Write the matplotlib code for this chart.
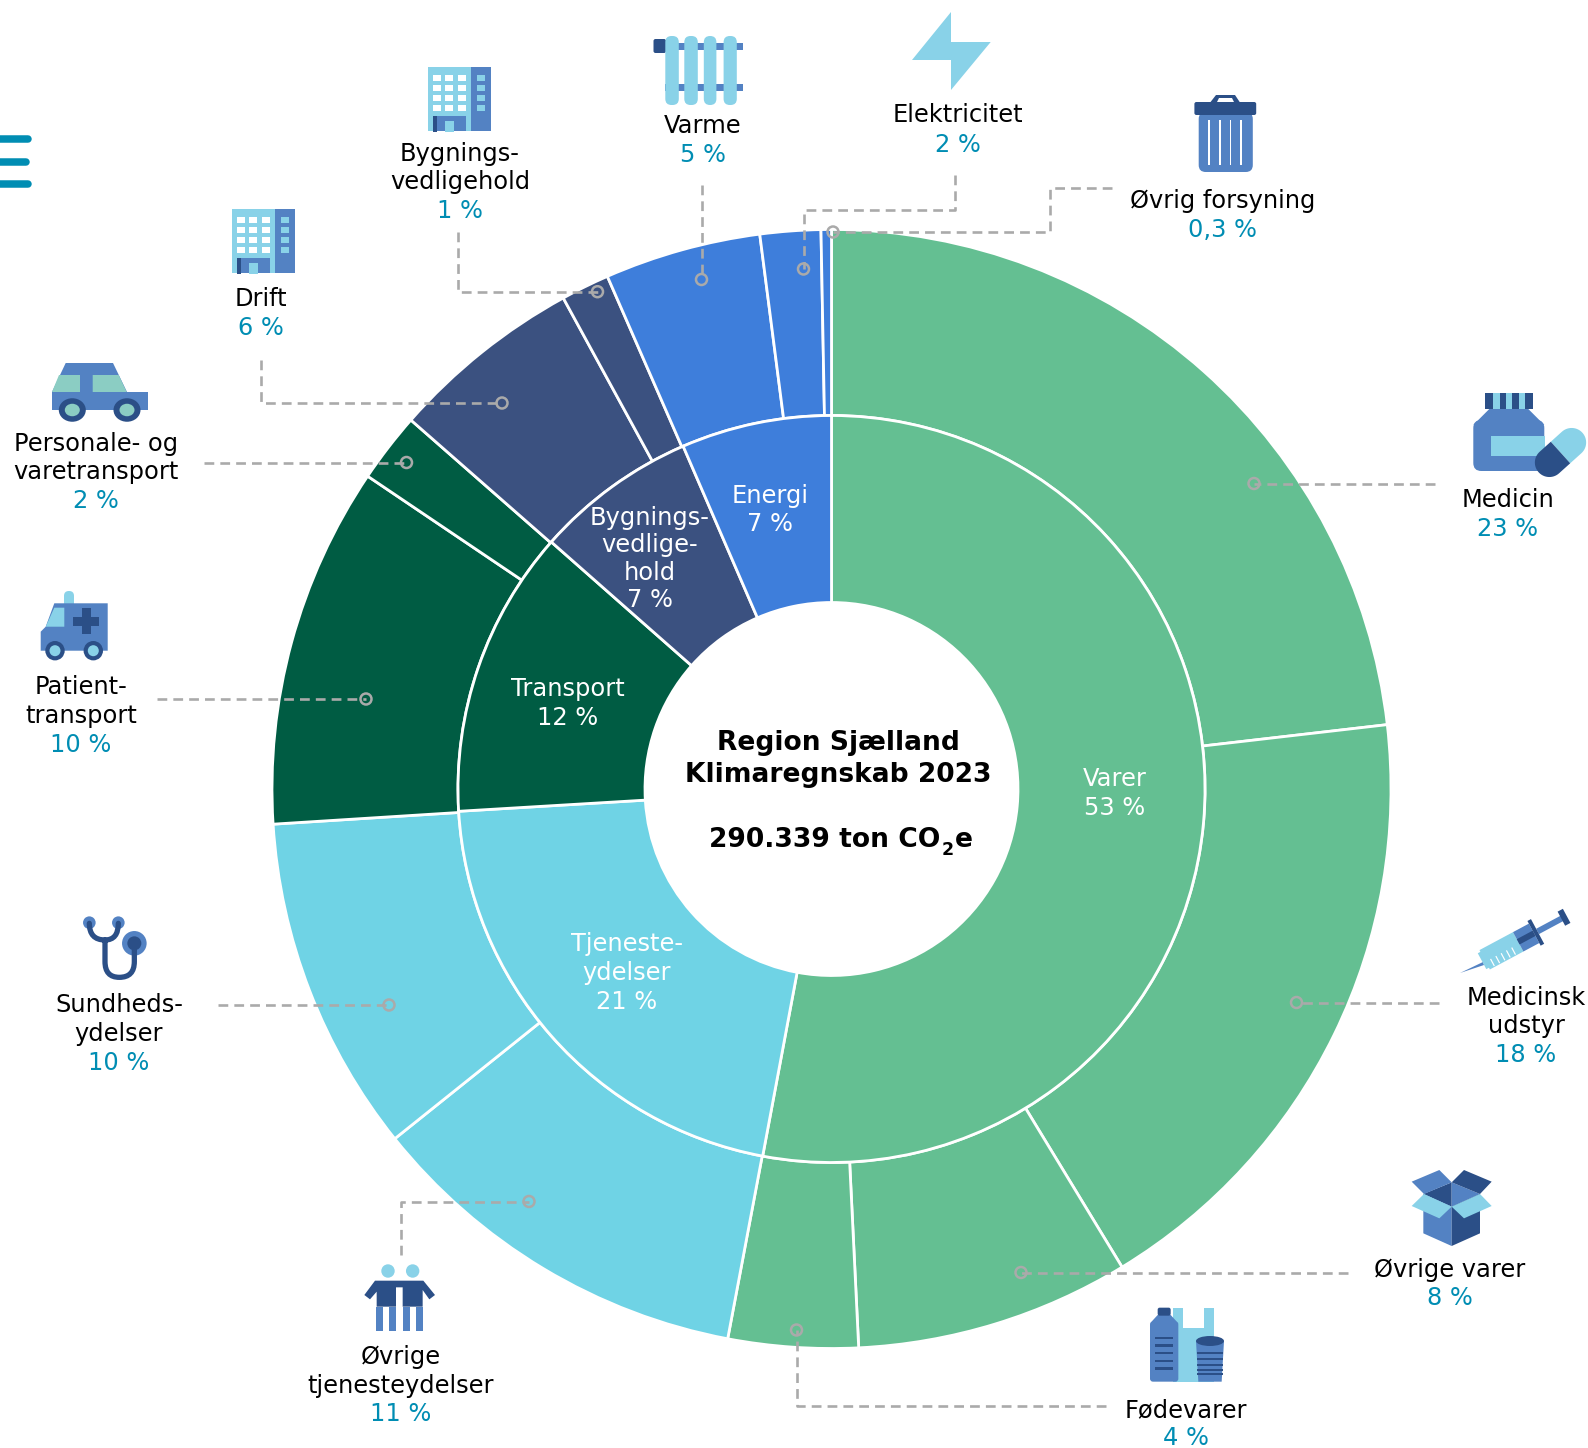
import numpy as np
import matplotlib
matplotlib.use("Agg")
import matplotlib.pyplot as plt
from matplotlib.patches import Polygon, Rectangle, Circle, Ellipse, FancyBboxPatch, PathPatch
from matplotlib.path import Path

# ---------- data ----------
outer_labels = ["Medicin", "Medicinsk udstyr", "Øvrige varer", "Fødevarer",
                "Øvrige tjenesteydelser", "Sundhedsydelser", "Patienttransport",
                "Personale- og varetransport", "Drift", "Bygningsvedligehold",
                "Varme", "Elektricitet", "Øvrig forsyning"]
outer_values = [23.2, 18.17, 7.93, 3.75, 11.3, 9.76, 10.46, 2.02, 5.59, 1.4, 4.52, 1.75, 0.3]
inner_labels = ["Varer", "Tjenesteydelser", "Transport", "Bygningsvedligehold", "Energi"]
inner_values = [52.95, 21.1, 12.45, 7.0, 6.5]

GREEN, CYAN, DGREEN, NAVY, BBLUE = "#64BF92", "#6FD3E5", "#005C43", "#3B5180", "#3E7EDB"
inner_colors = [GREEN, CYAN, DGREEN, NAVY, BBLUE]
outer_colors = [GREEN]*4 + [CYAN]*2 + [DGREEN]*2 + [NAVY]*2 + [BBLUE]*3

TEAL_TXT, GREY = "#008DB3", "#AAAAAA"
LIGHT, BLUE, DARK, MINT = "#89D2E8", "#5382C3", "#2B4F87", "#8BCDC3"
FS = 17.4
DY = 1.3

CX, CY = 831.5, 789
R_OUT, R_MID, R_IN = 559.5, 373.5, 186.5

fig = plt.figure(figsize=(15.88, 14.48), dpi=100, facecolor="white")
ax = fig.add_axes([0, 0, 1, 1])

wp = dict(edgecolor="white", linewidth=2.0)
ax.pie(outer_values, colors=outer_colors, radius=R_OUT, center=(CX, CY), startangle=-90,
       counterclock=True, frame=True, normalize=True,
       wedgeprops=dict(width=R_OUT-R_MID, **wp))
ax.pie(inner_values, colors=inner_colors, radius=R_MID, center=(CX, CY), startangle=-90,
       counterclock=True, frame=True, normalize=True,
       wedgeprops=dict(width=R_MID-R_IN, **wp))
ax.set_xlim(0, 1588)
ax.set_ylim(1448, 0)
ax.set_aspect("equal")
ax.axis("off")

# ---------- leader lines ----------
leaders = [
    [(261, 360), (261, 403), (502, 403)],
    [(458, 232), (458, 291.7), (597.5, 291.7)],
    [(701.5, 185), (701.5, 279.5)],
    [(955, 175), (955, 209.5), (803.5, 209.5), (803.5, 269)],
    [(1112, 188), (1050, 188), (1050, 232), (833, 232)],
    [(1435, 483.5), (1254, 483.5)],
    [(1439, 1002.5), (1296.5, 1002.5)],
    [(1348, 1272.5), (1021, 1272.5)],
    [(1106, 1405.5), (796.5, 1405.5), (796.5, 1330)],
    [(400.5, 1255), (400.5, 1201.5), (529, 1201.5)],
    [(218, 1005), (389, 1005)],
    [(157, 699), (366, 699)],
    [(204, 462.5), (406.5, 462.5)],
]
for pts in leaders:
    xs, ys = zip(*pts)
    ax.plot(xs, ys, color=GREY, lw=1.9, dashes=(3.7, 2.3), zorder=5, solid_joinstyle="miter")
    ax.add_patch(Circle(pts[-1], 5.5, fc="none", ec=GREY, lw=1.8, zorder=6))

# ---------- text ----------
def label(x, ys, lines, value):
    for y, t in zip(ys[:-1], lines):
        ax.text(x, y+DY, t, ha="center", va="center", fontsize=FS, color="black", zorder=7)
    ax.text(x, ys[-1]+DY, value, ha="center", va="center", fontsize=FS, color=TEAL_TXT, zorder=7)

label(1508, [498.5, 527.5], ["Medicin"], "23 %")
label(1526, [996.5, 1025, 1053.5], ["Medicinsk", "udstyr"], "18 %")
label(1450, [1268.5, 1297], ["Øvrige varer"], "8 %")
label(1186, [1408.5, 1437], ["Fødevarer"], "4 %")
label(401, [1356, 1384.5, 1413], ["Øvrige", "tjenesteydelser"], "11 %")
label(119, [1003.5, 1033, 1062], ["Sundheds-", "ydelser"], "10 %")
label(81, [685.5, 715, 743.5], ["Patient-", "transport"], "10 %")
label(96, [442.5, 471, 500], ["Personale- og", "varetransport"], "2 %")
label(261, [297.5, 327], ["Drift"], "6 %")
label(460, [153, 181, 210], ["Bygnings-", "vedligehold"], "1 %")
label(702.5, [125, 154], ["Varme"], "5 %")
label(958, [114, 143.5], ["Elektricitet"], "2 %")
label(1222.5, [199.5, 228.5], ["Øvrig forsyning"], "0,3 %")

def inner_text(x, ys, lines):
    for y, t in zip(ys, lines):
        ax.text(x, y+DY, t, ha="center", va="center", fontsize=FS, color="white", zorder=7)

inner_text(1115, [778, 806.5], ["Varer", "53 %"])
inner_text(770, [494.5, 522.5], ["Energi", "7 %"])
inner_text(650, [516.5, 544, 572, 598.5], ["Bygnings-", "vedlige-", "hold", "7 %"])
inner_text(568, [688, 716.5], ["Transport", "12 %"])
inner_text(627, [943, 972, 1000.5], ["Tjeneste-", "ydelser", "21 %"])

FB = 19.1
ax.text(838.5, 743, "Region Sjælland", ha="center", va="center", fontsize=FB, fontweight="bold", zorder=7)
ax.text(838.5, 775, "Klimaregnskab 2023", ha="center", va="center", fontsize=FB, fontweight="bold", zorder=7)
# the CO2 line: base text, smaller lowered 2, then e, each placed after the previous one
rend = fig.canvas.get_renderer()
t1 = ax.text(709, 847, "290.339 ton CO", ha="left", va="baseline", fontsize=FB, fontweight="bold", zorder=7)
x1 = t1.get_window_extent(rend).x1
t2 = ax.text(x1 + 1, 855, "2", ha="left", va="baseline", fontsize=12.5, fontweight="bold", zorder=7)
x2 = t2.get_window_extent(rend).x1
ax.text(x2 + 1, 847, "e", ha="left", va="baseline", fontsize=FB, fontweight="bold", zorder=7)

# ---------- icons ----------
Z = 8
def poly(pts, c, ox=0, oy=0, sx=1.0, sy=1.0):
    ax.add_patch(Polygon([(ox+x*sx, oy+y*sy) for x, y in pts], closed=True, fc=c, ec="none", zorder=Z))
def rect(x0, y0, x1, y1, c, z=Z):
    ax.add_patch(Rectangle((x0, y0), x1-x0, y1-y0, fc=c, ec="none", zorder=z))
def rrect(x0, y0, x1, y1, r, c, z=Z):
    ax.add_patch(FancyBboxPatch((x0+r, y0+r), x1-x0-2*r, y1-y0-2*r,
                                boxstyle=f"round,pad={r},rounding_size={r}", fc=c, ec="none", zorder=z))
def disc(x, y, r, c, z=Z+0.5):
    ax.add_patch(Circle((x, y), r, fc=c, ec="none", zorder=z))

def building(x0, y0):
    rect(x0, y0, x0+43, y0+64, LIGHT)
    rect(x0+43, y0, x0+63, y0+64, BLUE)
    for row in (8, 18, 28, 38):
        for col in (5, 17, 30):
            rect(x0+col, y0+row, x0+col+8, y0+row+6, "white", Z+0.2)
        rect(x0+49, y0+row, x0+57, y0+row+6, LIGHT, Z+0.2)
    rect(x0+5, y0+49, x0+38, y0+64, BLUE, Z+0.2)
    rect(x0+5, y0+49, x0+9, y0+65, DARK, Z+0.3)
    rect(x0+17, y0+54, x0+26, y0+65, LIGHT, Z+0.3)

building(428, 67)
building(232, 209)

# radiator
for a, b in ((43, 50), (84, 91)):
    rect(665, a, 742.5, b, BLUE)
rrect(653.5, 39, 666, 53, 2, DARK)
for a, b in ((665.3, 678.8), (684.3, 697.8), (703.8, 716.4), (723.6, 736.8)):
    rrect(a, 36, b, 105, 6.2, LIGHT, Z+0.2)

# bolt
poly([(951, 12), (951, 42), (990.7, 42), (951, 90), (951, 60), (912, 60)], LIGHT)

# bin
rrect(1198.7, 112, 1252.8, 172, 7, BLUE)
poly([(1209, 104), (1216, 95), (1235, 95), (1241, 104), (1235, 104), (1232, 98), (1219, 98), (1216, 104)], DARK)
rrect(1194.4, 102, 1256.2, 115, 2, DARK, Z+0.2)
for x in (1209, 1220, 1230.4, 1241):
    rect(x-0.9, 120, x+0.9, 165, "white", Z+0.3)

# car
poly([(65.7, 363), (113, 363), (127, 392), (148, 392), (148, 410), (52, 410), (52, 392)], BLUE)
poly([(59, 375), (79.5, 375), (79.5, 392), (52, 392)], MINT)
poly([(92.7, 375), (118.7, 375), (126.7, 392), (92.7, 392)], MINT)
for x in (72.3, 127):
    ax.add_patch(Ellipse((x, 410), 27, 23.5, fc=DARK, ec="none", zorder=Z+0.3))
    ax.add_patch(Ellipse((x, 410), 15, 12.5, fc=MINT, ec="none", zorder=Z+0.4))

# ambulance
rrect(64, 591, 74, 610, 4.9, LIGHT, Z-0.2)
poly([(40.7, 631.7), (45.7, 626.7), (54.3, 603.3), (107.7, 603.3), (107.7, 650.7), (40.7, 650.7)], BLUE)
poly([(45.7, 626.7), (54.3, 607.7), (64.3, 607.7), (64.3, 626.7)], LIGHT)
rect(73, 617, 99, 625.5, DARK, Z+0.2)
rect(82, 608, 90.5, 634, DARK, Z+0.2)
for x in (55, 93.3):
    disc(x, 650.7, 9.7, DARK)
    disc(x, 650.7, 5.5, LIGHT, Z+0.6)

# medicine jar and capsule
for i, (a, b) in enumerate(((1485, 1493), (1493, 1499.5), (1499.5, 1506), (1506, 1512), (1512, 1518.7),
                            (1518.7, 1524.7), (1524.7, 1533))):
    rect(a, 393, b, 409, DARK if i % 2 == 0 else LIGHT)
poly([(1489.3, 409), (1528.3, 409), (1544.3, 425), (1473.3, 425)], BLUE)
rrect(1473.3, 420, 1544.3, 471, 8, BLUE)
rect(1491, 436, 1544.5, 456, LIGHT, Z+0.1)
def capsule(cx, cy, half, r, ang):
    a = np.deg2rad(ang)
    u = np.array([np.cos(a), -np.sin(a)])
    v = np.array([np.sin(a), np.cos(a)])
    c = np.array([cx, cy])
    th = np.linspace(-np.pi/2, np.pi/2, 30)
    end1 = [c + u*half + u*r*np.cos(t) + v*r*np.sin(t) for t in th]
    end2 = [c - u*half - u*r*np.cos(t) + v*r*np.sin(t) for t in th]
    ax.add_patch(Polygon([c - v*r] + end1 + [c + v*r], closed=True, fc=LIGHT, ec="none", zorder=Z+0.3))
    ax.add_patch(Polygon([c - v*r] + end2 + [c + v*r], closed=True, fc=DARK, ec="none", zorder=Z+0.3))
capsule(1560.5, 452.5, 15, 14.5, 42)

# syringe (drawn in its own axis)
def syr(u0, v0, u1, v1, c, z=Z):
    o = np.array([1460.0, 973.0]); d = np.array([112.0, -60.0]); d = d/np.hypot(*d)
    n = np.array([d[1]*-1, d[0]])
    ax.add_patch(Polygon([o+d*u0+n*v0, o+d*u1+n*v0, o+d*u1+n*v1, o+d*u0+n*v1], closed=True, fc=c, ec="none", zorder=z))
ax.add_patch(Polygon([(1460, 973), (1483, 962), (1484, 965)], closed=True, fc=BLUE, ec="none", zorder=Z))
syr(25, -9, 30, 9, LIGHT)
syr(28, -11, 66, 11, LIGHT, Z+0.1)
syr(66, -11, 84, 11, BLUE, Z+0.1)
syr(66, -3, 84, 3, DARK, Z+0.2)
syr(84, -14, 88, 14, DARK, Z+0.2)
syr(88, -3, 116, 3, BLUE, Z+0.1)
syr(115, -8, 121, 8, DARK, Z+0.2)
for u in (33, 39, 45, 51, 57):
    syr(u, 2, u+1.2, 10, "white", Z+0.3)

# box
B = dict(ox=1100, oy=1150, sx=1/3, sy=1/3)
poly([(970, 132), (1055, 97), (1055, 170)], DARK, **B)
poly([(1055, 97), (1140, 132), (1055, 170)], BLUE, **B)
poly([(970, 132), (1055, 170), (1055, 288), (970, 250)], BLUE, **B)
poly([(1055, 170), (1140, 132), (1140, 250), (1055, 288)], DARK, **B)
poly([(935, 95), (1018, 60), (1055, 97), (972, 132)], BLUE, **B)
poly([(1055, 97), (1092, 60), (1175, 95), (1140, 132)], DARK, **B)
poly([(972, 132), (1055, 170), (1018, 205), (935, 168)], LIGHT, **B)
poly([(1140, 132), (1175, 168), (1092, 205), (1055, 170)], LIGHT, **B)

# food
poly([(220, 473), (250, 473), (250, 534), (312, 534), (312, 473), (342, 473), (342, 695), (220, 695)], LIGHT, **B)
poly([(173, 495), (212, 495), (235, 520), (150, 520)], BLUE, **B)
rrect(1100+150/3, 1150+515/3, 1100+235/3, 1150+695/3, 3, BLUE, Z+0.05)
rrect(1100+173/3, 1150+473/3, 1100+212/3, 1150+497/3, 2, DARK, Z+0.1)
for y in (560, 583, 606, 629, 652):
    rect(1100+165/3, 1150+y/3, 1100+220/3, 1150+(y+7)/3, DARK, Z+0.2)
poly([(288, 573), (372, 573), (365, 695), (295, 695)], BLUE, **B)
ax.add_patch(Ellipse((1100+330/3, 1150+573/3), 84/3, 30/3, fc=DARK, ec="none", zorder=Z+0.1))
for y in (607, 625, 642, 656, 670):
    rect(1100+291/3, 1150+y/3, 1100+369/3, 1150+(y+6)/3, DARK, Z+0.2)

# stethoscope
S = lambda x, y: (40+x/3, 890+y/3)
disc(*S(283, 160), 12.3, BLUE)
disc(*S(283, 160), 7, DARK, Z+0.7)
disc(*S(148, 98), 6.3, BLUE)
disc(*S(235, 98), 6.3, BLUE)
tube = Path([S(148, 100), S(148, 150), S(195, 150), S(235, 150), S(235, 100),
             S(195, 150), S(195, 215), S(195, 262), S(238, 262), S(283, 262), S(283, 215), S(283, 160)],
            [Path.MOVETO, Path.CURVE3, Path.CURVE3, Path.CURVE3, Path.CURVE3,
             Path.MOVETO, Path.LINETO, Path.CURVE3, Path.CURVE3, Path.CURVE3, Path.CURVE3, Path.LINETO])
ax.add_patch(PathPatch(tube, fc="none", ec=DARK, lw=3.8, zorder=Z+0.6, capstyle="round"))

# people
P = dict(ox=40, oy=890, sx=1/3, sy=1/3)
disc(*S(1044, 1143), 6.7, LIGHT)
disc(*S(1118, 1143), 6.7, LIGHT)
poly([(973, 1215), (1005, 1172), (1150, 1172), (1185, 1215), (1168, 1228), (1148, 1200), (1148, 1250),
      (1088, 1250), (1088, 1192), (1068, 1192), (1068, 1250), (1010, 1250), (1010, 1205), (990, 1228)], DARK, **P)
for a, b in ((1008, 1030), (1047, 1068), (1088, 1110), (1127, 1148)):
    rect(40+a/3, 890+1250/3, 40+b/3, 890+1322/3, BLUE)

# menu bars at the left edge
for y, x1 in ((139, 28), (161.5, 26), (184, 28)):
    ax.plot([-5, x1], [y, y], color=TEAL_TXT, lw=5.4, solid_capstyle="round", zorder=Z)

fig.savefig("out.png", dpi=100, facecolor="white")
